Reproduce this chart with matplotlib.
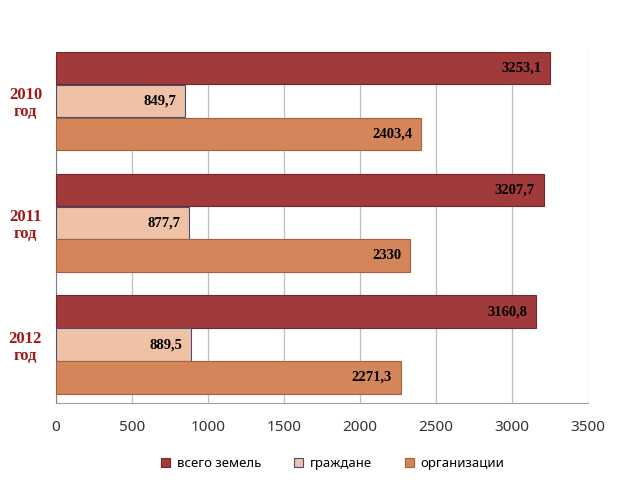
import numpy as np
import matplotlib
matplotlib.use("Agg")
import matplotlib.pyplot as plt

# Data
years = ["2010\nгод", "2011\nгод", "2012\nгод"]
series_names = ["всего земель", "граждане", "организации"]
total = [3253.1, 3207.7, 3160.8]
citizens = [849.7, 877.7, 889.5]
organizations = [2403.4, 2330, 2271.3]
value_labels = [
    ["3253,1", "3207,7", "3160,8"],
    ["849,7", "877,7", "889,5"],
    ["2403,4", "2330", "2271,3"],
]
x_ticks = [0, 500, 1000, 1500, 2000, 2500, 3000, 3500]

COLORS = ["#A13B3B", "#EFC2A8", "#D4865A"]
EDGES = ["#7A2626", "#3F4F78", "#A8603A"]
BAR_H = 0.265
OFFSETS = [0.27, 0.0, -0.27]

fig = plt.figure(figsize=(6.24, 4.91), dpi=100)
ax = fig.add_axes([0.0897, 0.1792, 0.8526, 0.7148])

centers = np.array([2, 1, 0])
series = [total, citizens, organizations]
for k, vals in enumerate(series):
    b = ax.barh(centers + OFFSETS[k], vals, height=BAR_H, color=COLORS[k],
                edgecolor=EDGES[k], linewidth=0.8, label=series_names[k], zorder=3)
    for rect, txt in zip(b, value_labels[k]):
        ax.text(rect.get_width() - 60, rect.get_y() + rect.get_height() / 2, txt,
                ha="right", va="center", fontsize=10.5, fontweight="bold",
                family="Liberation Serif", color="black", zorder=4)

ax.set_xlim(0, 3500)
ax.set_ylim(-0.48, 2.40)
ax.set_xticks(x_ticks)
ax.set_xticklabels([str(t) for t in x_ticks], fontsize=11, family="Noto Sans", color="#333333")
ax.set_yticks(centers)
ax.set_yticklabels(years, fontsize=12, fontweight="bold", family="Liberation Serif",
                   color="#A01818", linespacing=1.1)
for lab in ax.get_yticklabels():
    lab.set_horizontalalignment("center")
ax.tick_params(axis="both", length=0)
ax.tick_params(axis="x", pad=12)
ax.tick_params(axis="y", pad=22)

ax.grid(axis="x", color="#BFBFBF", linewidth=0.9, zorder=0)
for s in ["top", "right"]:
    ax.spines[s].set_visible(False)
ax.spines["left"].set_color("#808080")
ax.spines["bottom"].set_color("#A0A0A0")

ax.legend(loc="upper center", bbox_to_anchor=(0.52, -0.12), ncol=3, frameon=False,
          prop={"family": "Noto Sans", "size": 9.5}, handlelength=0.7, handleheight=0.7,
          columnspacing=2.5, handletextpad=0.5)

fig.savefig("out.png", dpi=100)
